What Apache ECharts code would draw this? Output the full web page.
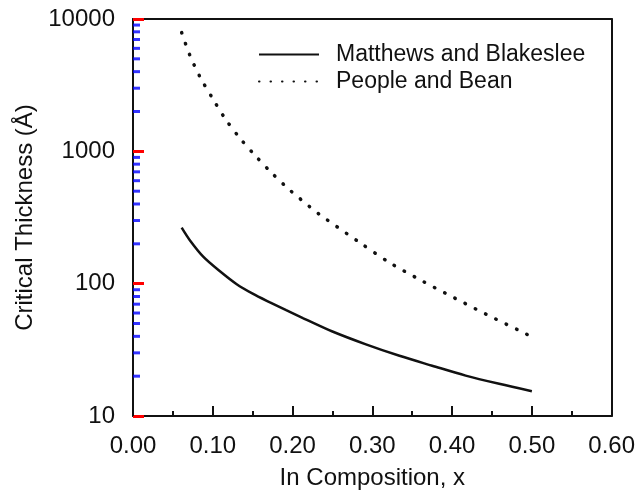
<!DOCTYPE html>
<html>
<head>
<meta charset="utf-8">
<script src="https://cdn.jsdelivr.net/npm/echarts@6/dist/echarts.min.js"></script>
<style>
  html, body { margin: 0; padding: 0; background: #fff; }
  #chart { width: 638px; height: 495px; }
</style>
</head>
<body>
<div id="chart"></div>
<script>
// Matthews and Blakeslee: In composition x and critical thickness (Å)
const mbX = [0.061, 0.071, 0.088, 0.109, 0.130, 0.150, 0.171, 0.192, 0.213, 0.250, 0.292, 0.334, 0.375, 0.417, 0.459, 0.500];
const mbH = [265, 214, 160, 124, 99, 84, 72.5, 63, 55, 43.5, 34.8, 28.5, 24.0, 20.2, 17.5, 15.4];

// People and Bean: In composition x and critical thickness (Å)
const pbX = [0.061, 0.071, 0.084, 0.100, 0.116, 0.134, 0.154, 0.175, 0.198, 0.221, 0.234, 0.284, 0.321, 0.361, 0.403, 0.443, 0.485, 0.500];
const pbH = [7890, 5370, 3650, 2500, 1748, 1259, 918, 676, 501, 384, 333, 205, 145, 106, 78, 58.6, 44, 39.6];

// Minor tick values on the logarithmic thickness axis
const yMinorTicks = [20, 30, 40, 50, 60, 70, 80, 90,
                     200, 300, 400, 500, 600, 700, 800, 900,
                     2000, 3000, 4000, 5000, 6000, 7000, 8000, 9000];

const seriesNames = ['Matthews and Blakeslee', 'People and Bean'];
const xTitle = 'In Composition, x';
const yTitle = 'Critical Thickness (Å)';

const FONT = 'Liberation Sans, Arial, Helvetica, sans-serif';
const INK = '#111';

function pairs(xs, ys) {
  return xs.map((x, i) => [x, ys[i]]);
}

// plain frame line for the top and right edges
const frameAxis = {
  axisLine: { show: true, onZero: false, lineStyle: { color: INK, width: 2 } },
  axisTick: { show: false },
  axisLabel: { show: false },
  splitLine: { show: false }
};

const chart = echarts.init(document.getElementById('chart'), null, { renderer: 'canvas' });

chart.setOption({
  backgroundColor: '#fff',
  animation: false,
  grid: { left: 133, right: 25, top: 19, bottom: 76 },
  legend: {
    orient: 'vertical',
    left: 253, top: 38,
    itemWidth: 60, itemHeight: 14, itemGap: 4,
    itemStyle: { opacity: 0 },
    textStyle: { fontFamily: FONT, fontSize: 23, color: INK, padding: [0, 0, 0, 12] },
    data: seriesNames
  },
  xAxis: [
    {
      type: 'value',
      min: 0, max: 0.6, interval: 0.1,
      name: xTitle,
      nameLocation: 'middle',
      nameGap: 50,
      nameTextStyle: { fontFamily: FONT, fontSize: 24, color: INK },
      axisLine: { show: true, onZero: false, lineStyle: { color: INK, width: 2 } },
      axisTick: { show: true, inside: true, length: 10, lineStyle: { color: INK, width: 2 } },
      minorTick: { show: true, splitNumber: 2, length: 5, lineStyle: { color: INK, width: 2 } },
      splitLine: { show: false },
      axisLabel: {
        fontFamily: FONT, fontSize: 24, color: INK, margin: 18,
        formatter: v => v.toFixed(2)
      }
    },
    Object.assign({ type: 'value', position: 'top', min: 0, max: 0.6 }, frameAxis)
  ],
  yAxis: [
    {
      type: 'log',
      logBase: 10,
      min: 10, max: 10000,
      name: yTitle,
      nameLocation: 'middle',
      nameGap: 86,
      nameTextStyle: { fontFamily: FONT, fontSize: 24, color: INK },
      axisLine: { show: true, onZero: false, lineStyle: { color: INK, width: 2 } },
      axisTick: { show: true, inside: true, length: 11, lineStyle: { color: 'red', width: 3 } },
      splitLine: { show: false },
      axisLabel: {
        fontFamily: FONT, fontSize: 24, color: INK, margin: 18,
        formatter: v => String(Math.round(v))
      }
    },
    Object.assign({ type: 'log', position: 'right', min: 10, max: 10000 }, frameAxis)
  ],
  series: [
    {
      name: seriesNames[0],
      type: 'line',
      data: pairs(mbX, mbH),
      smooth: 0.3,
      symbol: 'none',
      lineStyle: { color: INK, width: 2.5 },
      itemStyle: { color: INK }
    },
    {
      name: seriesNames[1],
      type: 'line',
      data: pairs(pbX, pbH),
      smooth: 0.3,
      symbol: 'none',
      lineStyle: { color: INK, width: 3.5, type: [0.5, 11], cap: 'round' },
      itemStyle: { color: INK }
    },
    {
      // short inward ticks at 2..9 of each decade on the left axis
      name: 'yMinor',
      type: 'scatter',
      silent: true,
      clip: false,
      data: yMinorTicks.map(v => [0, v]),
      symbol: 'rect',
      symbolSize: [7, 3],
      symbolOffset: [3.5, 0],
      itemStyle: { color: 'blue' },
      z: 5
    }
  ]
});
</script>
</body>
</html>
